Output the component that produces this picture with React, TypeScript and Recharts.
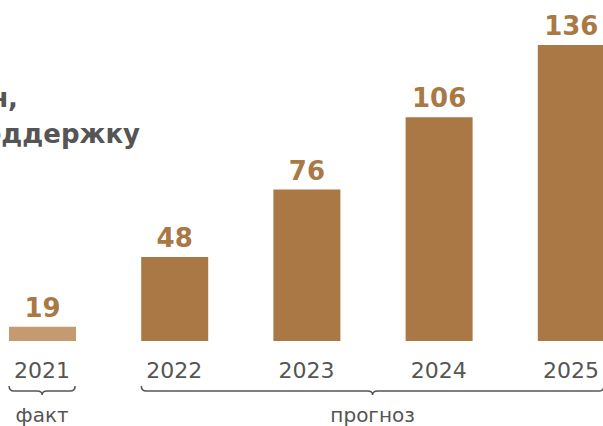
import { Bar, BarChart, Cell, LabelList, XAxis, YAxis } from 'recharts'

const years = ['2021', '2022', '2023', '2024', '2025']
const values = [19, 48, 76, 106, 136]
const groups = ['факт', 'прогноз']
const titleLines = ['Объём финансирования, млн,', 'направляемых на поддержку']

const data = years.map((year, i) => ({ year, value: values[i] }))

const brown = '#a97844'
const lightBrown = '#c49b70'
const grey = '#555555'
const font = "'DejaVu Sans', sans-serif"

function bracePath(x1: number, x2: number, xm: number, y: number) {
  return (
    `M${x1} ${y - 5} Q${x1} ${y} ${x1 + 5} ${y} L${xm - 5} ${y} ` +
    `Q${xm} ${y} ${xm} ${y + 4} Q${xm} ${y} ${xm + 5} ${y} ` +
    `L${x2 - 5} ${y} Q${x2} ${y} ${x2} ${y - 5}`
  )
}

function YearTick(props: any) {
  const { x, y, payload, index } = props
  const half = payload?.offset ?? 66
  const barHalf = 33
  let brace = null
  if (index === 0) {
    brace = (
      <g>
        <path d={bracePath(x - barHalf, x + barHalf, x, y + 50)} fill='none' stroke={grey} strokeWidth={1.5} />
        <text x={x} y={y + 81} textAnchor='middle' fontSize={20} fill={grey} fontFamily={font}>
          {groups[0]}
        </text>
      </g>
    )
  } else if (index === 1) {
    const mid = x + 3 * half
    brace = (
      <g>
        <path d={bracePath(x - barHalf, x + 6 * half + barHalf, mid, y + 50)} fill='none' stroke={grey} strokeWidth={1.5} />
        <text x={mid} y={y + 81} textAnchor='middle' fontSize={20} fill={grey} fontFamily={font}>
          {groups[1]}
        </text>
      </g>
    )
  }
  return (
    <g>
      <text x={x} y={y + 37} textAnchor='middle' fontSize={22} fill={grey} fontFamily={font}>
        {payload.value}
      </text>
      {brace}
    </g>
  )
}

export default function App() {
  return (
    <div style={{ position: 'fixed', left: 0, top: 0, width: 603, height: 426, overflow: 'hidden', background: '#fff' }}>
      <div
        style={{
          position: 'absolute',
          left: 18 - 600,
          top: 80,
          width: 600,
          textAlign: 'right',
          whiteSpace: 'nowrap',
          fontFamily: font,
          fontWeight: 700,
          fontSize: 26,
          lineHeight: '36px',
          color: grey,
        }}
      >
        <div>{titleLines[0]}</div>
        <div style={{ marginRight: -122 }}>{titleLines[1]}</div>
      </div>
      <div style={{ position: 'absolute', left: -24, top: 0 }}>
        <BarChart width={661} height={426} data={data} margin={{ top: 45, right: 0, bottom: 0, left: 0 }}>
          <XAxis
            dataKey='year'
            axisLine={false}
            tickLine={false}
            tickSize={0}
            tickMargin={0}
            height={85}
            interval={0}
            tick={<YearTick />}
          />
          <YAxis hide domain={[13.1, 136]} />
          <Bar dataKey='value' barSize={67} isAnimationActive={false}>
            {data.map((d, i) => (
              <Cell key={d.year} fill={i === 0 ? lightBrown : brown} />
            ))}
            <LabelList
              dataKey='value'
              position='top'
              offset={10}
              fill={brown}
              fontSize={26}
              fontWeight={700}
              fontFamily={font}
            />
          </Bar>
        </BarChart>
      </div>
    </div>
  )
}
